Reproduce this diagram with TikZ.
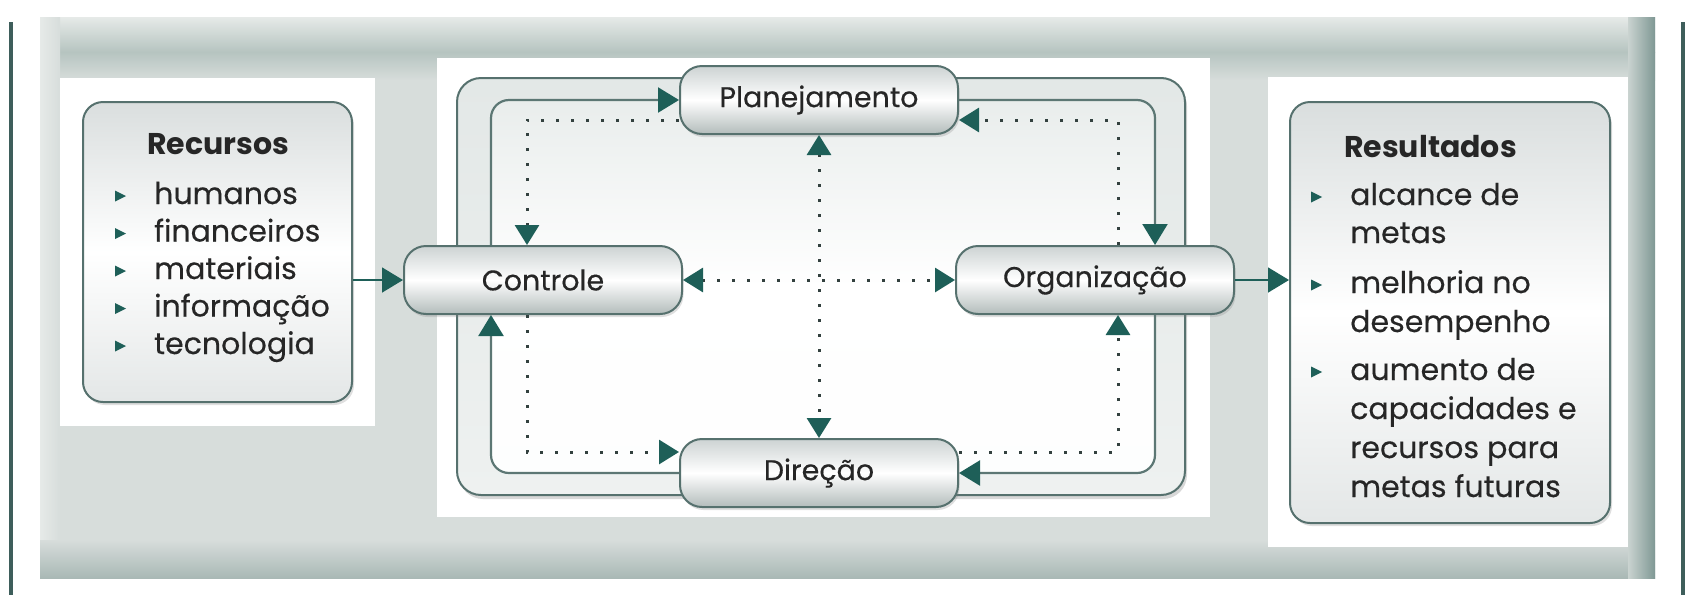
\documentclass[tikz,border=0pt]{standalone}
\usepackage{fontspec}
\setmainfont{Poppins}[UprightFeatures={FakeBold=0.35}]
\usetikzlibrary{arrows.meta,shadows,calc}

\definecolor{arrowteal}{HTML}{1E5F58}
\definecolor{framegray}{HTML}{56716E}
\definecolor{linegray}{HTML}{5C7774}
\definecolor{dotgray}{HTML}{33413F}
\definecolor{panelgray}{HTML}{D7DDDB}
\definecolor{panellight}{HTML}{E6EAE8}
\definecolor{paneldark}{HTML}{B6C4C0}
\definecolor{paneledge}{HTML}{7F9894}
\definecolor{panelbot}{HTML}{A9B8B5}
\definecolor{inkgray}{HTML}{262626}
\definecolor{barteal}{HTML}{3E5E5B}
\definecolor{nodetop}{HTML}{CDD3D3}
\definecolor{nodebot}{HTML}{B3BCBB}
\definecolor{bandtop}{HTML}{E3E8E7}
\definecolor{bandbot}{HTML}{EEF1F0}
\definecolor{innertop}{HTML}{E9EDEC}

\tikzset{
  stagebox/.style={draw=framegray, line width=2pt, rounded corners=22pt,
    minimum width=278pt, minimum height=68pt, inner sep=0pt,
    top color=nodetop, bottom color=nodebot, middle color=white,
    drop shadow={opacity=0.25, shadow xshift=1.5pt, shadow yshift=-3pt},
    font=\fontsize{28.5}{30}\selectfont, text=inkgray},
  bigbox/.style={draw=framegray, line width=2pt, rounded corners=20pt,
    inner sep=0pt, top color=nodetop!75, bottom color=nodetop!55,
    middle color=white,
    drop shadow={opacity=0.25, shadow xshift=2pt, shadow yshift=-3pt}},
  boxtitle/.style={anchor=base west, inner sep=0pt, text=inkgray,
    font=\fontsize{30}{32}\selectfont\bfseries},
  boxitem/.style={anchor=base west, inner sep=0pt, text=inkgray,
    font=\fontsize{30}{32}\selectfont},
  flowarrow/.style={draw=linegray, line width=2.2pt, rounded corners=18pt,
    -{Triangle[length=21pt, width=25pt, color=arrowteal]}},
  linkarrow/.style={draw=arrowteal, line width=1.6pt,
    -{Triangle[length=21pt, width=25pt, color=arrowteal]}},
  feedback/.style={draw=dotgray, line width=3pt, dash pattern=on 3pt off 12pt,
    -{Triangle[length=20pt, width=24pt, color=arrowteal]}},
  bothtips/.style={{Triangle[length=20pt, width=24pt, color=arrowteal]}-{Triangle[length=20pt, width=24pt, color=arrowteal]}},
  bulletmark/.style={fill=arrowteal}
}

\begin{document}
\begin{tikzpicture}[x=1pt, y=-1pt]
\useasboundingbox (0,0) rectangle (1686,595);
\fill[white] (0,0) rectangle (1686,595);

% side rules
\fill[barteal] (9,22) rectangle (13,595);
\fill[barteal] (1681,22) rectangle (1685,595);

% grey panel with bevelled edges
\fill[panelgray] (40,17) rectangle (1655,578);
\shade[top color=panellight, bottom color=paneldark] (40,17) rectangle (1655,52);
\shade[top color=paneldark, bottom color=panelgray] (40,52) rectangle (1655,80);
\shade[left color=panellight, right color=panelgray] (40,17) rectangle (60,578);
\shade[top color=panelgray, bottom color=panelbot] (40,540) rectangle (1655,578);
\shade[left color=panelgray!60!paneldark, right color=paneledge] (1628,17) rectangle (1655,578);

% white backings
\fill[white] (60,78) rectangle (375,426);
\fill[white] (437,58) rectangle (1210,517);
\fill[white] (1268,77) rectangle (1628,547);

% double frame of the management cycle
\filldraw[draw=framegray, line width=2pt, rounded corners=24pt,
  top color=bandtop, bottom color=bandbot,
  drop shadow={opacity=0.3, shadow xshift=2pt, shadow yshift=-4pt}]
  (457,78) rectangle (1185,495);
\shade[rounded corners=18pt, top color=innertop, bottom color=white!92!innertop, middle color=white]
  (491,100) rectangle (1155,473);

% guide coordinates for the loops
\coordinate (innerL) at (491,0);
\coordinate (innerR) at (1155,0);
\coordinate (dotL) at (527,0);
\coordinate (dotR) at (1118,0);

% stages
\node[stagebox] (plan) at (819,100) {Planejamento};
\node[stagebox] (ctrl) at (543,280) {Controle};
\node[stagebox] (org)  at (1095,280) {Organização};
\node[stagebox] (dir)  at (819,473) {Direção};

% input and output boxes
\node[bigbox, minimum width=269pt, minimum height=300pt] (rec) at (217.5,252) {};
\node[bigbox, minimum width=320pt, minimum height=421pt] (res) at (1450,312.5) {};

% main cycle (solid)
\draw[flowarrow] (ctrl.north -| innerL) |- (plan.west);
\draw[flowarrow] (plan.east) -| (org.north -| innerR);
\draw[flowarrow] (org.south -| innerR) |- (dir.east);
\draw[flowarrow] (dir.west) -| (ctrl.south -| innerL);

% feedback loops (dotted)
\draw[feedback] ([yshift=-20pt]plan.west) -| (ctrl.north -| dotL);
\draw[feedback] (ctrl.south -| dotL) |- ([yshift=21pt]dir.west);
\draw[feedback] ([yshift=21pt]dir.east) -| (org.south -| dotR);
\draw[feedback] (org.north -| dotR) |- ([yshift=-20pt]plan.east);
\draw[feedback, bothtips] (plan.south) -- (dir.north);
\draw[feedback, bothtips] (ctrl.east) -- (org.west);

% inputs and outputs
\draw[linkarrow] (rec.east |- ctrl.west) -- (ctrl.west);
\draw[linkarrow] (org.east) -- (org.east -| res.west);

% Recursos list
\node[boxtitle] (rectitle) at (147,154) {Recursos};
\foreach \t [count=\i] in {humanos, financeiros, materiais, informação, tecnologia}{
  \node[boxitem] (recitem\i) at (154,{166.5+37.5*\i}) {\t};
  \fill[bulletmark] ([xshift=-39pt,yshift=2.5pt]recitem\i.base west) -- ++(0,-11) -- ++(11,5.5) -- cycle;
}

% Resultados list
\node[boxtitle] (restitle) at (1344,157) {Resultados};
\node[boxitem] (resline1) at (1350,205) {alcance de};
\node[boxitem] (resline2) at (1350,243) {metas};
\node[boxitem] (resline3) at (1350,293) {melhoria no};
\node[boxitem] (resline4) at (1350,332) {desempenho};
\node[boxitem] (resline5) at (1350,380) {aumento de};
\node[boxitem] (resline6) at (1350,419) {capacidades e};
\node[boxitem] (resline7) at (1350,458) {recursos para};
\node[boxitem] (resline8) at (1350,497) {metas futuras};
\foreach \k in {1,3,5}{
  \fill[bulletmark] ([xshift=-39pt,yshift=2.5pt]resline\k.base west) -- ++(0,-11) -- ++(11,5.5) -- cycle;
}
\end{tikzpicture}
\end{document}
